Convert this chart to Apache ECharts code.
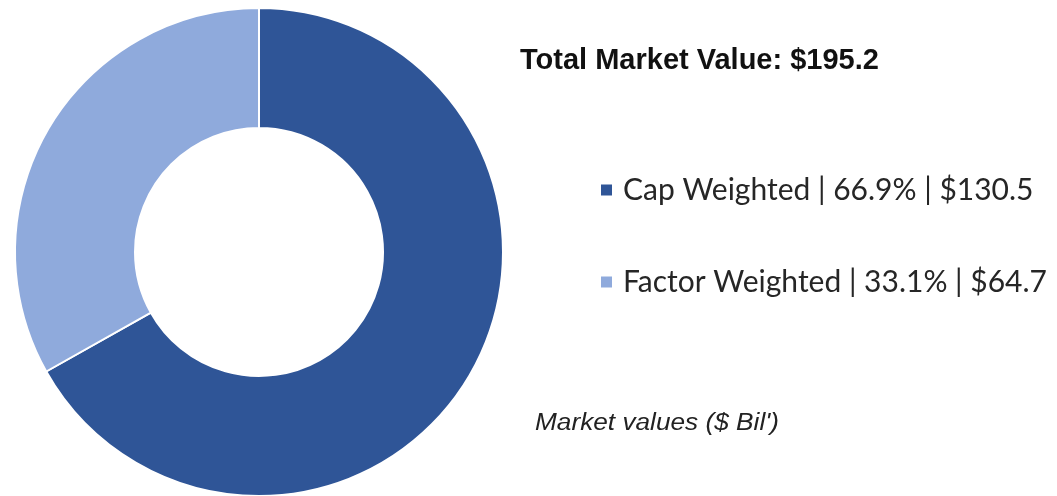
<!DOCTYPE html>
<html>
<head>
<meta charset="utf-8">
<script src="https://cdn.jsdelivr.net/npm/echarts@6/dist/echarts.min.js"></script>
<style>
html,body{margin:0;padding:0;background:#fff;}
#c{width:1057px;height:496px;}
</style>
</head>
<body>
<div id="c"></div>
<script>
const categories = ['Cap Weighted', 'Factor Weighted'];
const marketValues = [130.5, 64.7];
const shares = ['66.9%', '33.1%'];
const totalLabel = 'Total Market Value: $195.2';
const noteLabel = "Market values ($ Bil')";
const colors = ['#2F5597', '#8FAADC'];

const chart = echarts.init(document.getElementById('c'), null, {renderer: 'canvas'});
const data = categories.map((n, i) => ({name: n, value: marketValues[i], itemStyle: {color: colors[i]}}));
chart.setOption({
  animation: false,
  backgroundColor: '#fff',
  legend: {
    orient: 'vertical',
    left: 599,
    top: 175,
    padding: 0,
    itemWidth: 13,
    itemHeight: 13,
    itemGap: 62,
    icon: 'rect',
    data: categories,
    formatter: function (name) {
      const i = categories.indexOf(name);
      return name + ' | ' + shares[i] + ' | $' + marketValues[i].toFixed(1);
    },
    textStyle: {
      fontFamily: 'Lato',
      fontSize: 30,
      color: '#262626',
      lineHeight: 30,
      padding: [0, 0, 0, 5]
    }
  },
  graphic: [
    {
      type: 'text', left: 520, top: 46,
      style: {text: totalLabel, font: 'bold 29px "Liberation Sans"', fill: '#111'}
    },
    {
      type: 'text', x: 535, y: 412, scaleX: 1.14,
      style: {text: noteLabel, font: 'italic 23px "Liberation Sans"', fill: '#222'}
    }
  ],
  series: [{
    type: 'pie',
    center: [259, 252],
    radius: [124, 244],
    startAngle: 90,
    clockwise: true,
    label: {show: false},
    labelLine: {show: false},
    itemStyle: {borderColor: '#fff', borderWidth: 2},
    emphasis: {disabled: true},
    data: data
  }]
});
</script>
</body>
</html>
